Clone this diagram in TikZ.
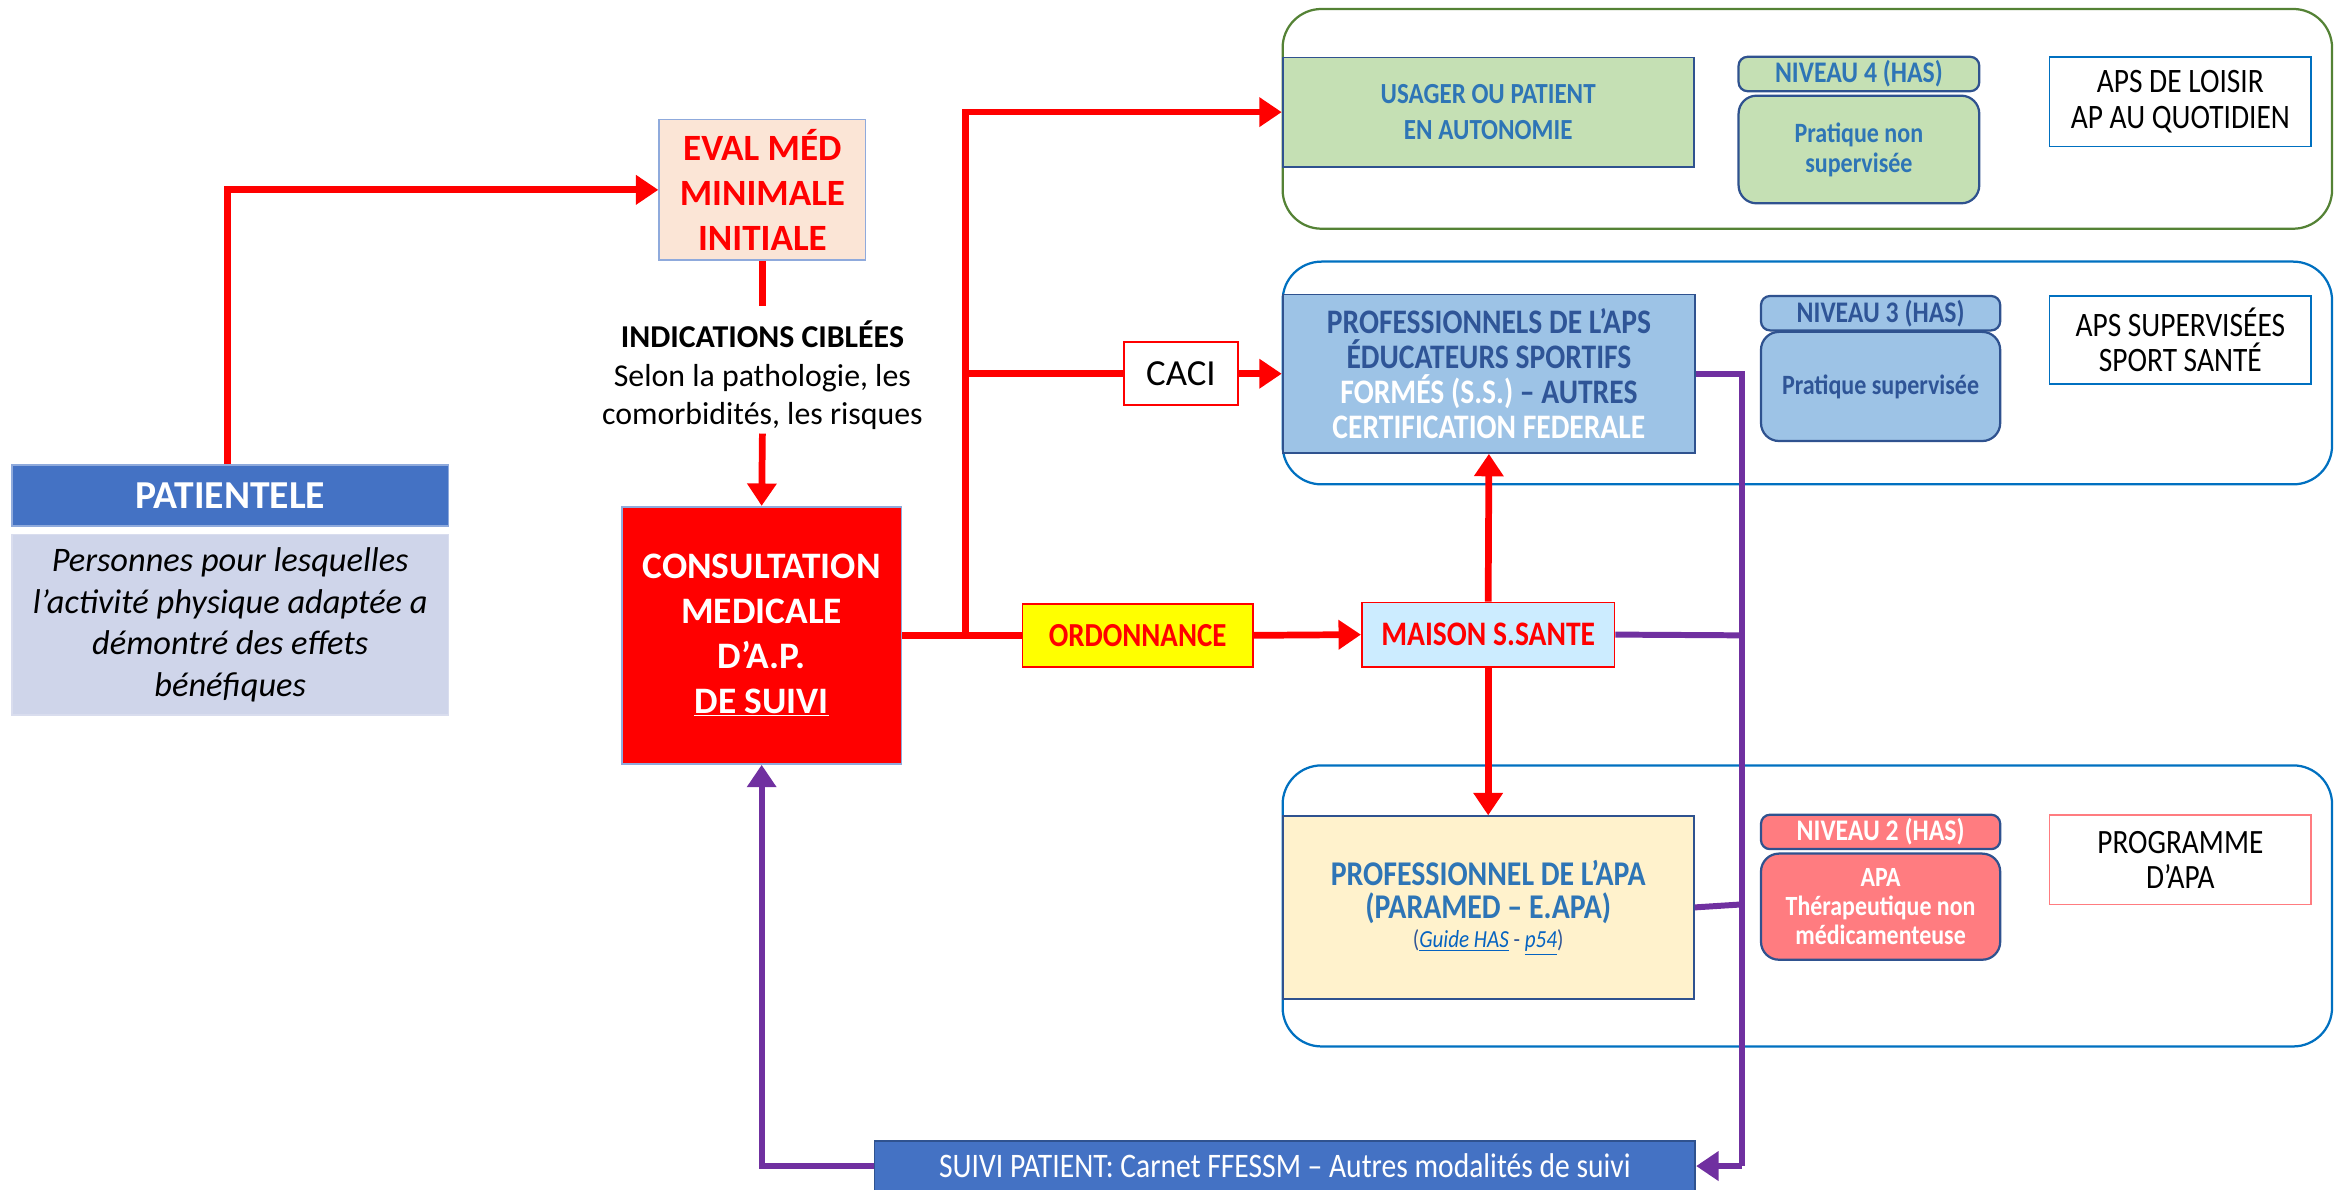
\documentclass[tikz,border=0pt]{standalone}
\usepackage{fontspec}
\setmainfont{Carlito}
\newfontfamily\cond[FakeStretch=0.86]{Carlito}
\usetikzlibrary{arrows.meta}
\definecolor{myred}{HTML}{FF0000}
\definecolor{mypurple}{HTML}{7030A0}
\definecolor{hdblue}{HTML}{4472C4}
\definecolor{lav}{HTML}{CFD5EA}
\definecolor{peach}{HTML}{FBE5D6}
\definecolor{ltblueb}{HTML}{8FAADC}
\definecolor{grn}{HTML}{548235}
\definecolor{ltgrn}{HTML}{C5E0B4}
\definecolor{dkb}{HTML}{2F528F}
\definecolor{txtb}{HTML}{2E75B6}
\definecolor{skyb}{HTML}{9DC3E6}
\definecolor{dkt}{HTML}{2F5597}
\definecolor{grpb}{HTML}{0070C0}
\definecolor{cream}{HTML}{FFF2CC}
\definecolor{pink}{HTML}{FF7C80}
\definecolor{yel}{HTML}{FFFF00}
\definecolor{maisonb}{HTML}{CCECFF}
\definecolor{linkb}{HTML}{0563C1}
\begin{document}
\begin{tikzpicture}[x=1pt,y=-1pt,
  box/.style={draw, line width=1.2pt, inner sep=2pt, align=center, anchor=center},
  grp/.style={draw, line width=1.5pt, rounded corners=26pt},
  nivbox/.style={box, draw=dkb, line width=1.5pt, rounded corners=6pt},
  redline/.style={draw=myred, line width=4.5pt},
  redarrow/.style={redline, -{Triangle[length=15pt,width=19pt]}},
  purline/.style={draw=mypurple, line width=4pt},
  purarrow/.style={purline, -{Triangle[length=15pt,width=19pt]}}
]
\useasboundingbox (0,0) rectangle (1568,796);

% groups
\node[grp, draw=grn, minimum width=702pt, minimum height=147pt, anchor=center] (g1) at (1209,79.5) {};
\node[grp, draw=grpb, minimum width=702pt, minimum height=149pt, anchor=center] (g2) at (1209,249.5) {};
\node[grp, draw=grpb, minimum width=702pt, minimum height=188pt, anchor=center] (g3) at (1209,606) {};

% left
\node[box, draw=ltblueb, fill=hdblue, text=white, minimum width=292pt, minimum height=41pt, font=\fontsize{26.5}{28}\selectfont\bfseries] (pathead) at (154,331.5) {PATIENTELE};
\node[box, draw=lav!80!white, fill=lav, minimum width=292pt, minimum height=121pt, font=\fontsize{23}{27.7}\selectfont\itshape] (patbody) at (154,418) {Personnes pour lesquelles\\l’activité physique adaptée a\\démontré des effets\\bénéfiques};

\node[box, draw=ltblueb, fill=peach, text=myred, minimum width=138pt, minimum height=94pt, font=\fontsize{24.8}{30}\selectfont\bfseries] (eval) at (510,127) {EVAL MÉD\\MINIMALE\\INITIALE};

\node[align=center, font=\fontsize{21.3}{26}\selectfont, inner sep=0pt] (ind) at (510,251) {\textbf{INDICATIONS CIBLÉES}\\Selon la pathologie, les\\comorbidités, les risques};
\coordinate (evalend) at (510,205);
\coordinate (indend) at (510,290);

\node[box, draw=ltblueb, fill=myred, text=white, minimum width=187pt, minimum height=172pt, font=\fontsize{25}{30}\selectfont\bfseries] (consult) at (509.5,425) {CONSULTATION\\MEDICALE\\D’A.P.\\\underline{DE SUIVI}};

\node[box, draw=myred, fill=white, minimum width=76pt, minimum height=42pt, font=\fontsize{24.6}{26}\selectfont] (caci) at (790,250) {CACI};
\node[box, draw=myred, fill=yel, text=myred, minimum width=154pt, minimum height=42pt, font=\fontsize{22.5}{24}\selectfont\cond\bfseries] (ordo) at (761,425) {ORDONNANCE};
\node[box, draw=myred, fill=maisonb, text=myred, minimum width=169pt, minimum height=43pt, font=\fontsize{23}{24}\selectfont\cond\bfseries] (maison) at (995.5,424.5) {MAISON S.SANTE};

% row 1
\node[box, draw=dkb, fill=ltgrn, text=txtb, minimum width=275pt, minimum height=73pt, font=\fontsize{19.5}{24}\selectfont\cond\bfseries] (usager) at (995.5,75) {USAGER OU PATIENT\\EN AUTONOMIE};
\node[nivbox, fill=ltgrn, text=txtb, minimum width=161pt, minimum height=23pt, inner sep=0pt, font=\fontsize{20}{20}\selectfont\cond\bfseries] (n4h) at (1243.5,49.5) {NIVEAU 4 (HAS)};
\node[nivbox, fill=ltgrn, text=txtb, minimum width=161pt, minimum height=72pt, rounded corners=12pt, font=\fontsize{18.7}{20}\selectfont\cond\bfseries] (n4b) at (1243.5,100) {Pratique non\\supervisée};
\node[box, draw=grpb, fill=white, minimum width=175pt, minimum height=60pt, font=\fontsize{22.9}{23.5}\selectfont\cond] (loisir) at (1458.5,68) {APS DE LOISIR\\AP AU QUOTIDIEN};

% row 2
\node[box, draw=dkb, fill=skyb, text=dkt, minimum width=276pt, minimum height=106pt, font=\fontsize{23}{23.5}\selectfont\cond\bfseries] (profaps) at (996,250) {PROFESSIONNELS DE L’APS\\ÉDUCATEURS SPORTIFS\\\textcolor{white}{FORMÉS (S.S.)} – AUTRES\\\textcolor{white}{CERTIFICATION FEDERALE}};
\node[nivbox, fill=skyb, text=dkt, minimum width=160pt, minimum height=23pt, inner sep=0pt, font=\fontsize{20}{20}\selectfont\cond\bfseries] (n3h) at (1258,209.5) {NIVEAU 3 (HAS)};
\node[nivbox, fill=skyb, text=dkt, minimum width=160pt, minimum height=73pt, rounded corners=12pt, font=\fontsize{18.7}{20}\selectfont\cond\bfseries] (n3b) at (1258,258.5) {Pratique supervisée};
\node[box, draw=grpb, fill=white, minimum width=175pt, minimum height=59pt, font=\fontsize{22.9}{23.5}\selectfont\cond] (superv) at (1458.5,227.5) {APS SUPERVISÉES\\SPORT SANTÉ};

% row 3
\node[box, draw=dkb, fill=cream, text=txtb, minimum width=275pt, minimum height=122pt, font=\fontsize{23.2}{22}\selectfont\cond\bfseries] (profapa) at (995.5,607) {PROFESSIONNEL DE L’APA\\(PARAMED – E.APA)\\[-2pt]{\fontsize{16.4}{17}\selectfont\mdseries\color{dkt}(\textcolor{linkb}{\itshape\underline{Guide HAS}} - \textcolor{linkb}{\itshape\underline{p54}})}};
\node[nivbox, fill=pink, text=white, minimum width=160pt, minimum height=23pt, inner sep=0pt, font=\fontsize{20}{20}\selectfont\cond\bfseries] (n2h) at (1258,556.5) {NIVEAU 2 (HAS)};
\node[nivbox, fill=pink, text=white, minimum width=160pt, minimum height=71pt, rounded corners=12pt, font=\fontsize{18.6}{19.5}\selectfont\cond\bfseries] (n2b) at (1258,606.5) {APA\\Thérapeutique non\\médicamenteuse};
\node[box, draw=pink, fill=white, minimum width=175pt, minimum height=60pt, font=\fontsize{22.8}{23.5}\selectfont\cond] (prog) at (1458.5,575) {PROGRAMME\\D’APA};

% suivi
\node[box, draw=dkb, fill=hdblue, text=white, minimum width=549pt, minimum height=34pt, font=\fontsize{23}{24}\selectfont\cond] (suivi) at (859.5,780) {SUIVI PATIENT: Carnet FFESSM – Autres modalités de suivi};

% red connectors
\draw[redarrow] ([xshift=-2pt]pathead.north) |- (eval.west);
\draw[redline] (eval.south) -- (evalend);
\draw[redarrow] (indend) -- (consult.north);
\coordinate (j) at (646,425);
\coordinate (jc) at (646,250);
\draw[redline] (consult.east) -- (ordo.west);
\draw[redarrow] (j) |- (usager.west);
\draw[redline] (jc) -- (caci.west);
\draw[redarrow] (caci.east) -- (profaps.west);
\draw[redarrow] (ordo.east) -- (maison.west);
\draw[redarrow] (maison.north) -- (profaps.south);
\draw[redarrow] (maison.south) -- (profapa.north);

% purple connectors
\coordinate (p1) at (1165,250);
\coordinate (p2) at (1165,425);
\coordinate (p3) at (1165,605);
\coordinate (p4) at (1165,780);
\draw[purline] (profaps.east) -- (p1) -- (p4);
\draw[purarrow] (p4) -- (suivi.east);
\draw[purline] (maison.east) -- (p2);
\draw[purline] (profapa.east) -- (p3);
\draw[purarrow] (suivi.west) -| (consult.south);
\end{tikzpicture}
\end{document}
